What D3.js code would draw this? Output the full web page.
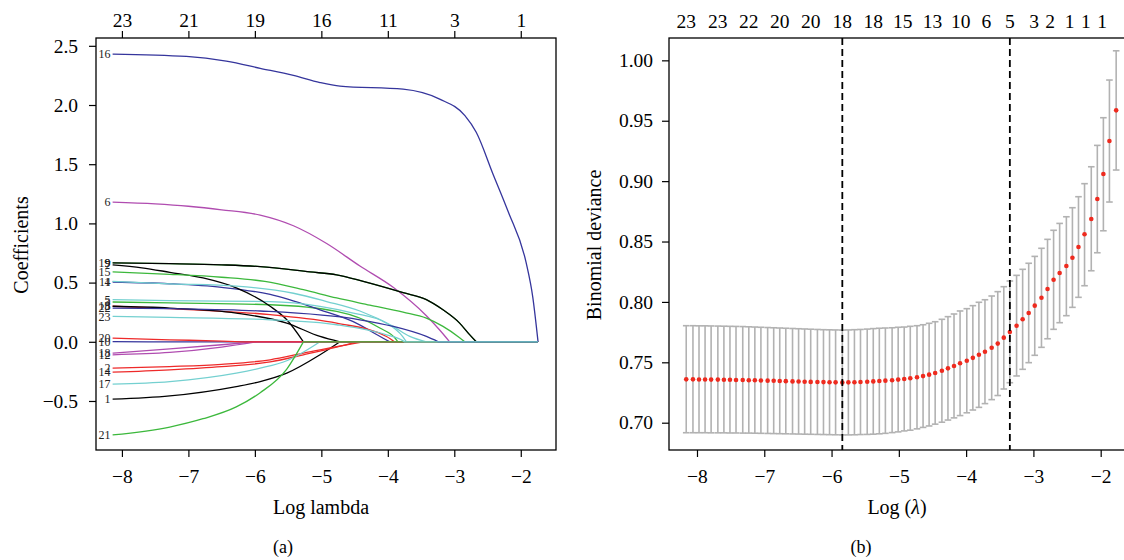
<!DOCTYPE html>
<html>
<head>
<meta charset="utf-8">
<script src="https://cdn.jsdelivr.net/npm/d3@7"></script>
<style>
  body { margin: 0; background: #fff; }
  svg { display: block; font-family: "Liberation Serif", "DejaVu Serif", serif; }
</style>
</head>
<body>
<svg id="chart" width="1124" height="560"></svg>
<script>
// ---- data: panel (a) lasso coefficient paths ----
const lambdaTicks = [-8, -7, -6, -5, -4, -3, -2];
const dfTop = [23, 21, 19, 16, 11, 3, 1];
const coefTicks = [-0.5, 0, 0.5, 1.0, 1.5, 2.0, 2.5];
const lambdaMaxLog = -1.74;

// knots [log lambda, coefficient] for variables 1..23
const coefKnots = [
  /* 1 */ [[-8.14,-0.485],[-7.28,-0.457],[-6.28,-0.378],[-5.92,-0.336],[-5.52,-0.265],[-5.02,-0.11],[-4.72,0]],
  /* 2 */ [[-8.14,-0.223],[-7.28,-0.209],[-6.5,-0.19],[-5.77,-0.152],[-5.27,-0.096],[-4.77,-0.04],[-4.37,0]],
  /* 3 */ [[-8.14,0.336],[-7.28,0.328],[-5.77,0.313],[-4.77,0.257],[-4.12,0.116],[-3.87,0.017],[-3.85,0]],
  /* 4 */ [[-8.14,0.505],[-7.28,0.49],[-6.5,0.46],[-5.77,0.40],[-5.02,0.27],[-4.52,0.17],[-4.07,0.03],[-3.97,0]],
  /* 5 */ [[-8.14,0.356],[-7.28,0.347],[-5.77,0.34],[-5.02,0.30],[-4.52,0.243],[-4.02,0.158],[-3.77,0.04],[-3.72,0]],
  /* 6 */ [[-8.14,1.18],[-7.5,1.165],[-7.0,1.145],[-6.5,1.115],[-5.92,1.07],[-5.42,0.98],[-4.92,0.83],[-4.42,0.64],[-3.92,0.46],[-3.42,0.22],[-3.22,0.10],[-3.07,0]],
  /* 7 */ [[-8.14,0.65],[-7.7,0.625],[-7.28,0.587],[-6.78,0.539],[-6.28,0.455],[-5.77,0.30],[-5.52,0.186],[-5.27,0]],
  /* 8 */ [[-8.14,0.30],[-7.28,0.28],[-5.77,0.229],[-4.77,0.158],[-4.02,0.045],[-3.90,0]],
  /* 9 */ [[-8.14,0.667],[-7.28,0.66],[-6.5,0.65],[-5.92,0.635],[-5.17,0.59],[-4.77,0.565],[-4.37,0.51],[-3.77,0.415],[-3.42,0.356],[-3.17,0.27],[-2.92,0.158],[-2.77,0.06],[-2.67,0]],
  /* 10 */ [[-8.14,0.002],[-7.6,0]],
  /* 11 */ [[-8.14,0.51],[-7.28,0.49],[-6.28,0.47],[-5.42,0.41],[-4.92,0.34],[-4.42,0.26],[-3.92,0.13],[-3.67,0.045],[-3.42,0]],
  /* 12 */ [[-8.14,-0.11],[-7.28,-0.09],[-6.5,-0.045],[-5.97,0]],
  /* 13 */ [[-8.14,0.30],[-7.28,0.285],[-6.28,0.243],[-5.52,0.158],[-5.02,0.045],[-4.72,0]],
  /* 14 */ [[-8.14,-0.257],[-7.28,-0.237],[-6.5,-0.21],[-5.77,-0.17],[-5.27,-0.11],[-4.77,-0.045],[-4.47,0]],
  /* 15 */ [[-8.14,0.59],[-7.28,0.57],[-6.5,0.545],[-5.85,0.51],[-5.27,0.44],[-4.77,0.37],[-4.27,0.31],[-3.77,0.25],[-3.42,0.20],[-3.17,0.13],[-2.92,0.035],[-2.84,0]],
  /* 16 */ [[-8.14,2.43],[-7.03,2.41],[-6.43,2.37],[-5.92,2.31],[-5.42,2.25],[-5.02,2.19],[-4.72,2.16],[-3.77,2.134],[-3.22,2.05],[-2.84,1.91],[-2.67,1.77],[-2.42,1.42],[-2.19,1.10],[-1.92,0.67],[-1.82,0.38],[-1.74,0]],
  /* 17 */ [[-8.14,-0.358],[-7.28,-0.336],[-6.28,-0.265],[-5.92,-0.223],[-5.52,-0.16],[-5.02,0]],
  /* 18 */ [[-8.14,-0.096],[-7.28,-0.06],[-6.5,-0.025],[-5.97,0]],
  /* 19 */ [[-8.14,0.667],[-7.28,0.66],[-6.5,0.65],[-5.92,0.635],[-5.17,0.59],[-4.77,0.565],[-4.37,0.51],[-3.77,0.415],[-3.42,0.356],[-3.17,0.27],[-2.92,0.158],[-2.77,0.06],[-2.67,0]],
  /* 20 */ [[-8.14,0.031],[-7.28,0.017],[-6.5,0.006],[-6.2,0]],
  /* 21 */ [[-8.14,-0.787],[-7.28,-0.72],[-6.78,-0.65],[-6.28,-0.55],[-5.92,-0.43],[-5.52,-0.23],[-5.27,0]],
  /* 22 */ [[-8.14,0.285],[-7.28,0.28],[-5.92,0.26],[-4.42,0.186],[-3.92,0.13],[-3.42,0.045],[-3.24,0]],
  /* 23 */ [[-8.14,0.214],[-7.28,0.206],[-5.77,0.186],[-4.77,0.144],[-4.02,0.059],[-3.77,0.008],[-3.75,0]]
];
const lineColors = ['#000000', '#ee2a2a', '#3cb83c', '#35359c', '#74d0d0', '#b04cb0'];

// ---- data: panel (b) cross-validation ----
const cvLogLambda = [-8.16,-8.06,-7.97,-7.88,-7.79,-7.69,-7.60,-7.51,-7.42,-7.32,-7.23,-7.14,-7.05,-6.95,-6.86,-6.77,-6.68,-6.58,-6.49,-6.40,
  -6.31,-6.21,-6.12,-6.03,-5.94,-5.84,-5.75,-5.66,-5.57,-5.47,-5.38,-5.29,-5.20,-5.10,-5.01,-4.92,-4.83,-4.73,-4.64,-4.55,
  -4.46,-4.36,-4.27,-4.18,-4.09,-3.99,-3.90,-3.81,-3.72,-3.62,-3.53,-3.44,-3.35,-3.25,-3.16,-3.07,-2.98,-2.88,-2.79,-2.70,
  -2.61,-2.51,-2.42,-2.33,-2.24,-2.14,-2.05,-1.96,-1.87,-1.77];
const cvMean = [.7359,.7359,.7358,.7358,.7357,.7357,.7356,.7355,.7354,.7353,.7352,.7351,.7350,.7348,.7347,.7345,.7344,.7342,.7341,.7339,
  .7338,.7337,.7336,.7335,.7334,.7333,.7334,.7335,.7337,.7339,.7342,.7345,.7348,.7352,.7357,.7362,.7368,.7376,.7386,.7398,
  .7412,.7430,.7450,.7470,.7492,.7513,.7537,.7562,.7588,.7620,.7655,.7704,.7751,.7803,.7856,.7908,.7969,.8035,.8107,.8184,
  .8239,.8297,.8366,.8455,.8560,.8686,.8852,.9059,.9332,.9586];
const cvUpper = [.7803,.7803,.7802,.7802,.7801,.7800,.7799,.7798,.7797,.7796,.7794,.7792,.7790,.7788,.7786,.7784,.7782,.7780,.7778,.7776,
  .7774,.7772,.7770,.7769,.7768,.7767,.7768,.7770,.7772,.7775,.7779,.7782,.7784,.7786,.7790,.7792,.7798,.7803,.7811,.7823,
  .7836,.7856,.7878,.7900,.7925,.7944,.7969,.7997,.8018,.8049,.8085,.8126,.8173,.8220,.8270,.8320,.8377,.8444,.8518,.8593,
  .8650,.8705,.8780,.8871,.8979,.9119,.9296,.9525,.9837,1.0079];
const cvLower = [.6917,.6917,.6917,.6917,.6916,.6916,.6916,.6915,.6915,.6914,.6914,.6913,.6912,.6911,.6910,.6909,.6908,.6907,.6906,.6905,
  .6904,.6903,.6902,.6901,.6900,.6899,.6899,.6900,.6902,.6903,.6905,.6908,.6912,.6918,.6924,.6932,.6938,.6949,.6961,.6973,
  .6988,.7004,.7022,.7040,.7059,.7082,.7105,.7127,.7158,.7191,.7225,.7279,.7331,.7387,.7442,.7497,.7558,.7624,.7695,.7773,
  .7828,.7886,.7955,.8038,.8134,.8258,.8407,.8589,.8827,.9092];
const cvTopAt = [-8.16,-7.69,-7.23,-6.77,-6.31,-5.84,-5.38,-4.94,-4.50,-4.08,-3.70,-3.35,-2.99,-2.75,-2.46,-2.22,-1.98];
const cvTopDf = [23,23,22,20,20,18,18,15,13,10,6,5,3,2,1,1,1];
const lambdaMinLog = -5.84;
const lambda1seLog = -3.35;
const devianceTicks = [0.70, 0.75, 0.80, 0.85, 0.90, 0.95, 1.00];

const svg = d3.select('#chart');
const TICK_FONT = 19.5;
const TITLE_FONT = 20;

function styleAxis(g) {
  g.select('.domain').remove();
  g.selectAll('.tick line').attr('stroke', '#000').attr('stroke-width', 1.2);
  g.selectAll('.tick text')
    .attr('fill', '#000')
    .style('font-family', '"Liberation Serif", serif')
    .style('font-size', TICK_FONT + 'px');
}

// ================= panel (a) =================
const ax = d3.scaleLinear().domain([-8.39, -1.47]).range([96, 556]);
const ay = d3.scaleLinear().domain([-0.914, 2.566]).range([450, 38]);

const gA = svg.append('g');

const coefLine = d3.line()
  .x(d => ax(d[0]))
  .y(d => ay(d[1]))
  .curve(d3.curveMonotoneX);

coefKnots.forEach((knots, i) => {
  const path = coefLine(knots) + `L${ax(lambdaMaxLog)},${ay(0)}`;
  gA.append('path')
    .attr('d', path)
    .attr('fill', 'none')
    .attr('stroke', lineColors[i % 6])
    .attr('stroke-width', 1.3);
});

// variable labels at the left end of each path
gA.append('g').selectAll('text')
  .data(coefKnots)
  .join('text')
  .attr('x', ax(-8.14) - 2)
  .attr('y', d => ay(d[0][1]))
  .attr('dy', '0.35em')
  .attr('text-anchor', 'end')
  .style('font-size', '12px')
  .attr('fill', '#222')
  .text((d, i) => i + 1);

gA.append('g')
  .attr('transform', 'translate(0,450)')
  .call(d3.axisBottom(ax).tickValues(lambdaTicks).tickSize(7).tickPadding(12)
    .tickFormat(d => '\u2212' + Math.abs(d)))
  .call(styleAxis);

gA.append('g')
  .attr('transform', 'translate(0,38)')
  .call(d3.axisTop(ax).tickValues(lambdaTicks).tickSize(7).tickPadding(4)
    .tickFormat((d, i) => dfTop[i]))
  .call(styleAxis);

gA.append('g')
  .attr('transform', 'translate(96,0)')
  .call(d3.axisLeft(ay).tickValues(coefTicks).tickSize(7).tickPadding(11)
    .tickFormat(d3.format('.1f')))
  .call(styleAxis);

gA.append('rect')
  .attr('x', 96).attr('y', 38).attr('width', 460).attr('height', 412)
  .attr('fill', 'none').attr('stroke', '#000').attr('stroke-width', 1.3);

gA.append('text')
  .attr('transform', 'translate(28,245) rotate(-90)')
  .attr('text-anchor', 'middle')
  .style('font-size', TITLE_FONT + 'px')
  .text('Coefficients');

gA.append('text')
  .attr('x', 321).attr('y', 514)
  .attr('text-anchor', 'middle')
  .style('font-size', TITLE_FONT + 'px')
  .text('Log lambda');

gA.append('text')
  .attr('x', 283).attr('y', 553)
  .attr('text-anchor', 'middle')
  .style('font-size', '18px')
  .text('(a)');

// ================= panel (b) =================
const bx = d3.scaleLinear().domain([-8.416, -1.49]).range([669, 1135]);
const by = d3.scaleLinear().domain([0.6774, 1.0185]).range([450, 38]);

const gB = svg.append('g');
const cvIdx = d3.range(cvLogLambda.length);

// error bars
const bars = gB.append('g').attr('stroke', '#b2b2b2').attr('stroke-width', 1.6);
bars.selectAll('line.v')
  .data(cvIdx)
  .join('line')
  .attr('class', 'v')
  .attr('x1', i => bx(cvLogLambda[i])).attr('x2', i => bx(cvLogLambda[i]))
  .attr('y1', i => by(cvUpper[i])).attr('y2', i => by(cvLower[i]));
bars.selectAll('line.cu')
  .data(cvIdx)
  .join('line')
  .attr('class', 'cu')
  .attr('x1', i => bx(cvLogLambda[i]) - 3.3).attr('x2', i => bx(cvLogLambda[i]) + 3.3)
  .attr('y1', i => by(cvUpper[i])).attr('y2', i => by(cvUpper[i]));
bars.selectAll('line.cl')
  .data(cvIdx)
  .join('line')
  .attr('class', 'cl')
  .attr('x1', i => bx(cvLogLambda[i]) - 3.3).attr('x2', i => bx(cvLogLambda[i]) + 3.3)
  .attr('y1', i => by(cvLower[i])).attr('y2', i => by(cvLower[i]));

// mean points
gB.append('g').selectAll('circle')
  .data(cvIdx)
  .join('circle')
  .attr('cx', i => bx(cvLogLambda[i]))
  .attr('cy', i => by(cvMean[i]))
  .attr('r', 2.3)
  .attr('fill', '#ee2b1f');

// lambda.min and lambda.1se
gB.append('g').selectAll('line')
  .data([lambdaMinLog, lambda1seLog])
  .join('line')
  .attr('x1', d => bx(d)).attr('x2', d => bx(d))
  .attr('y1', 38).attr('y2', 450)
  .attr('stroke', '#000')
  .attr('stroke-width', 1.8)
  .attr('stroke-dasharray', '7,4');

gB.append('g')
  .attr('transform', 'translate(0,450)')
  .call(d3.axisBottom(bx).tickValues(lambdaTicks).tickSize(7).tickPadding(12)
    .tickFormat(d => '\u2212' + Math.abs(d)))
  .call(styleAxis);

gB.append('g')
  .attr('transform', 'translate(669,0)')
  .call(d3.axisLeft(by).tickValues(devianceTicks).tickSize(7).tickPadding(9)
    .tickFormat(d3.format('.2f')))
  .call(styleAxis);

// number of non-zero coefficients along the top (no tick marks)
gB.append('g').selectAll('text')
  .data(cvTopAt)
  .join('text')
  .attr('x', d => bx(d))
  .attr('y', 28)
  .attr('text-anchor', 'middle')
  .style('font-size', TICK_FONT + 'px')
  .text((d, i) => cvTopDf[i]);

gB.append('rect')
  .attr('x', 669).attr('y', 38).attr('width', 466).attr('height', 412)
  .attr('fill', 'none').attr('stroke', '#000').attr('stroke-width', 1.3);

gB.append('text')
  .attr('transform', 'translate(601,245) rotate(-90)')
  .attr('text-anchor', 'middle')
  .style('font-size', TITLE_FONT + 'px')
  .text('Binomial deviance');

const xt = gB.append('text')
  .attr('x', 897).attr('y', 514)
  .attr('text-anchor', 'middle')
  .style('font-size', TITLE_FONT + 'px');
xt.append('tspan').text('Log (');
xt.append('tspan').style('font-style', 'italic').text('\u03bb');
xt.append('tspan').text(')');

gB.append('text')
  .attr('x', 861).attr('y', 553)
  .attr('text-anchor', 'middle')
  .style('font-size', '18px')
  .text('(b)');
</script>
</body>
</html>
